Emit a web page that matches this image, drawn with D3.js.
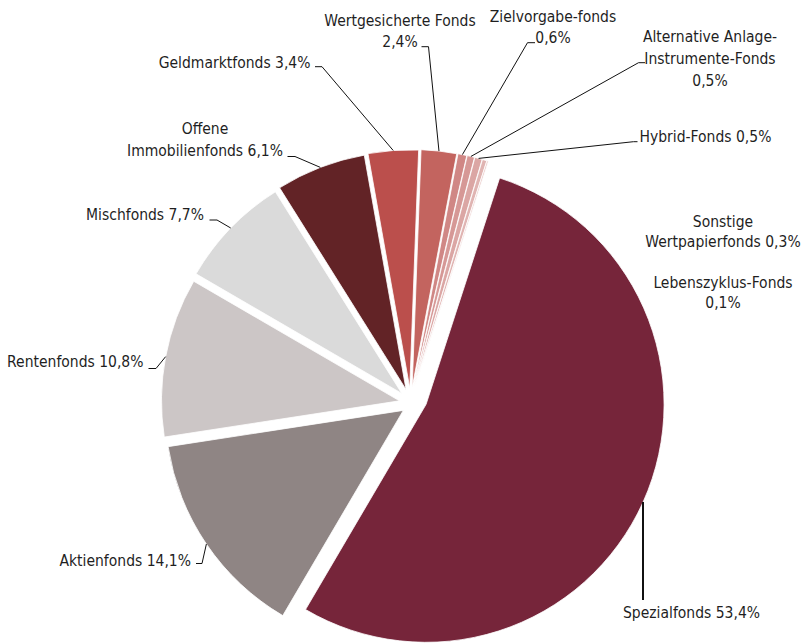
<!DOCTYPE html>
<html lang="de">
<head>
<meta charset="utf-8">
<title>Fondsvermögen nach Fondsarten</title>
<script src="https://cdn.jsdelivr.net/npm/d3@7/dist/d3.min.js"></script>
<style>
  html, body { margin: 0; padding: 0; background: #fff; }
  svg { display: block; }
  .lbl { font-family: "DejaVu Sans Condensed", "DejaVu Sans", sans-serif; font-size: 15.5px; fill: #1f1f1f; }
</style>
</head>
<body>
<svg id="chart" width="806" height="643"></svg>
<script>
// Fondsarten in clockwise order, starting with the largest share
const categories = [
  "Spezialfonds", "Aktienfonds", "Rentenfonds", "Mischfonds",
  "Offene Immobilienfonds", "Geldmarktfonds", "Wertgesicherte Fonds",
  "Zielvorgabe-fonds", "Alternative Anlage-Instrumente-Fonds", "Hybrid-Fonds",
  "Sonstige Wertpapierfonds", "Lebenszyklus-Fonds"
];
// share of total fund assets, percent
const shares = [53.4, 14.1, 10.8, 7.7, 6.1, 3.4, 2.4, 0.6, 0.5, 0.5, 0.3, 0.1];
// label text, line by line
const labelLines = [
  ["Spezialfonds 53,4%"],
  ["Aktienfonds 14,1%"],
  ["Rentenfonds 10,8%"],
  ["Mischfonds 7,7%"],
  ["Offene", "Immobilienfonds 6,1%"],
  ["Geldmarktfonds 3,4%"],
  ["Wertgesicherte Fonds", "2,4%"],
  ["Zielvorgabe-fonds", "0,6%"],
  ["Alternative Anlage-", "Instrumente-Fonds", "0,5%"],
  ["Hybrid-Fonds 0,5%"],
  ["Sonstige", "Wertpapierfonds 0,3%"],
  ["Lebenszyklus-Fonds", "0,1%"]
];
const colors = [
  "#76253a", "#8f8584", "#ccc6c6", "#dadada", "#622326", "#bb4f4c",
  "#c3645f", "#d08785", "#d69896", "#dba6a4", "#e0b4b2", "#e6c3c1"
];

// ---- layout ----
const cx = 413, cy = 401;            // pie centre
const R = 238;                       // outer radius
const explode = 13.5;                // every slice is pushed out from the centre
const explodeSkew = 10 * Math.PI / 180;
const start = 18 * Math.PI / 180;

// label placement: anchor, x, first baseline, line height, leader elbow (x, y) and tail end
const labelLayout = [
  { anchor: "start",  x: 623,   y: 618,   lh: 21.5, leader: "vertical", lx: 643, ly: 600 },
  { anchor: "end",    x: 191,   y: 565.5, lh: 21.5, tail: [196, 563.5], elbow: [202, 563.5] },
  { anchor: "end",    x: 143.5, y: 367,   lh: 21.5, tail: [148.5, 368.5], elbow: [156, 368.5] },
  { anchor: "end",    x: 204,   y: 219.5, lh: 21.5, tail: [209.5, 220], elbow: [217, 220] },
  { anchor: "middle", x: 205,   y: 134,   lh: 21.6, tail: [287.5, 156.5], elbow: [295, 156.5] },
  { anchor: "end",    x: 310.5, y: 68,    lh: 21.5, tail: [315, 66.7], elbow: [322, 66.7] },
  { anchor: "middle", x: 400,   y: 25.5,  lh: 21.7, tail: [421.5, 46.7], elbow: [428.5, 46.7] },
  { anchor: "middle", x: 553,   y: 21.5,  lh: 21.3, tail: [535, 42.7], elbow: [527.5, 42.7] },
  { anchor: "middle", x: 710,   y: 42.3,  lh: 21.6, tail: [645, 62.7], elbow: [638.5, 62.7] },
  { anchor: "start",  x: 639.5, y: 141.5, lh: 21.5, tail: [637.5, 141.7], elbow: [633.5, 141.7] },
  { anchor: "middle", x: 723,   y: 227.2, lh: 20 },
  { anchor: "middle", x: 723,   y: 288.2, lh: 19.5 }
];

const data = categories.map((name, i) => ({
  name, value: shares[i], color: colors[i], lines: labelLines[i], layout: labelLayout[i]
}));

const pie = d3.pie()
  .sort(null)
  .value(d => d.value)
  .startAngle(start)
  .endAngle(start + 2 * Math.PI);

const arc = d3.arc().innerRadius(0).outerRadius(R);
const rim = d3.arc().innerRadius(R).outerRadius(R);

const arcs = pie(data);

function offset(d) {
  const a = (d.startAngle + d.endAngle) / 2 - explodeSkew;
  return [Math.sin(a) * explode, -Math.cos(a) * explode];
}

const svg = d3.select("#chart");
const g = svg.append("g").attr("transform", `translate(${cx},${cy})`);

// slices
g.selectAll("path.slice")
  .data(arcs)
  .join("path")
  .attr("class", "slice")
  .attr("transform", d => { const o = offset(d); return `translate(${o[0]},${o[1]})`; })
  .attr("d", arc)
  .attr("fill", d => d.data.color)
  .attr("stroke", "#fff")
  .attr("stroke-width", 0.8)
  .attr("stroke-linejoin", "round");

// leader lines from the outer edge of each slice
const leaders = svg.append("g")
  .attr("fill", "none")
  .attr("stroke", "#111");

arcs.forEach(d => {
  const L = d.data.layout;
  if (!L.tail && L.leader !== "vertical") return;
  const o = offset(d);
  const p = rim.centroid(d);
  const px = cx + o[0] + p[0], py = cy + o[1] + p[1];
  if (L.leader === "vertical") {
    leaders.append("line")
      .attr("x1", L.lx).attr("y1", py)
      .attr("x2", L.lx).attr("y2", L.ly)
      .attr("stroke-width", 2);
  } else {
    leaders.append("polyline")
      .attr("points", [L.tail, L.elbow, [px, py]].map(q => q.join(",")).join(" "))
      .attr("stroke-width", 1);
  }
});

// labels
const labels = svg.append("g");
arcs.forEach(d => {
  const L = d.data.layout;
  const t = labels.append("text")
    .attr("class", "lbl")
    .attr("text-anchor", L.anchor);
  d.data.lines.forEach((line, i) => {
    t.append("tspan")
      .attr("x", L.x)
      .attr("y", L.y + i * L.lh)
      .text(line);
  });
});
</script>
</body>
</html>
